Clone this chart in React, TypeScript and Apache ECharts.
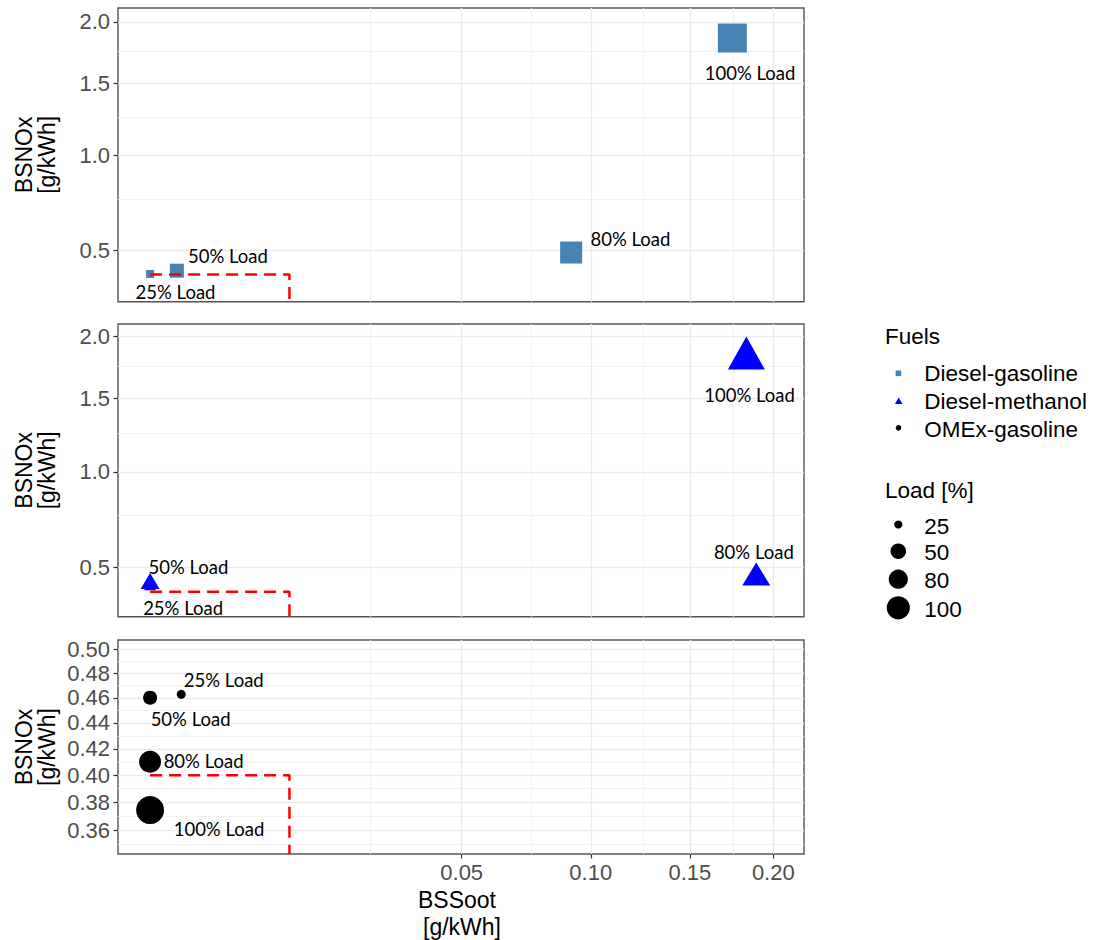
import React, { useEffect, useRef } from "react";
import * as echarts from "echarts";

// ---------- data (original units) ----------
const LOADS = [25, 50, 80, 100];
const FUELS = ["Diesel-gasoline", "Diesel-methanol", "OMEx-gasoline"];

// BSSoot [g/kWh] and BSNOx [g/kWh] per load (25, 50, 80, 100 %)
const DG_SOOT = [0.0, 0.00037, 0.0913, 0.1746];
const DG_NOX = [0.4016, 0.4147, 0.4904, 1.862];
const DM_SOOT = [0.0, 0.0, 0.1892, 0.1831];
const DM_NOX = [0.425, 0.4424, 0.4714, 1.861];
const OG_SOOT = [0.0005, 0.0, 0.0, 0.0];
const OG_NOX = [0.4628, 0.4601, 0.4101, 0.3743];

// emission limit box
const LIMIT_SOOT = 0.01;
const LIMIT_NOX = 0.4;

// tick labels
const X_TICKS = [0.05, 0.1, 0.15, 0.2];
const X_MINOR = [0.025, 0.075, 0.125, 0.175];
const Y_TICKS_WIDE = [0.5, 1.0, 1.5, 2.0];
const Y_MINOR_WIDE = [0.75, 1.25, 1.75];
const Y_TICKS_NARROW = [0.36, 0.38, 0.4, 0.42, 0.44, 0.46, 0.48, 0.5];
const Y_MINOR_NARROW = [0.35, 0.37, 0.39, 0.41, 0.43, 0.45, 0.47, 0.49];

// ---------- layout / style ----------
const SQ = Math.sqrt;
const X_RANGE = [-0.02303, 0.46925]; // sqrt-space limits
const PANELS = [
  { top: 8, height: 293.7, yRange: [0.54793, 1.45757], ticks: Y_TICKS_WIDE, minor: Y_MINOR_WIDE, dec: 1 },
  { top: 324, height: 292.7, yRange: [0.55562, 1.45316], ticks: Y_TICKS_WIDE, minor: Y_MINOR_WIDE, dec: 1 },
  { top: 640, height: 214, yRange: [0.5858, 0.71244], ticks: Y_TICKS_NARROW, minor: Y_MINOR_NARROW, dec: 2 },
];
const GRID_LEFT = 118;
const GRID_WIDTH = 686;

const SQUARE_SIZE: Record<number, number> = { 25: 8, 50: 14, 80: 22, 100: 29 };
const TRI_SIZE: Record<number, number[]> = { 25: [12, 10], 50: [19, 16], 80: [28, 23], 100: [37, 33] };
const CIRCLE_SIZE: Record<number, number> = { 25: 9, 50: 14, 80: 22, 100: 28 };

const LABEL_OFFSETS = [
  [[25.4, 17.7], [51, -14.7], [59.3, -13.8], [17.7, 34.7]],
  [[33, 23], [38.3, -13.7], [-2.4, -22.3], [3.2, 42.3]],
  [[42.5, -14.3], [40.5, 21.6], [53.5, -1], [68.9, 19.3]],
];

const TICK_FONT = "Liberation Sans, Arial, sans-serif";
const LABEL_FONT = "Lato, Carlito, sans-serif";

export default function App() {
  const ref = useRef<HTMLDivElement>(null);

  useEffect(() => {
    if (!ref.current) return;
    const chart = echarts.init(ref.current, undefined, { renderer: "svg" });

    const grids = PANELS.map((p) => ({
      left: GRID_LEFT,
      top: p.top,
      width: GRID_WIDTH,
      height: p.height,
      show: true,
      borderColor: "#555555",
      borderWidth: 1.4,
      backgroundColor: "#ffffff",
    }));

    const xAxis: any[] = [];
    const yAxis: any[] = [];
    PANELS.forEach((p, i) => {
      const isBottom = i === 2;
      xAxis.push({
        type: "value",
        gridIndex: i,
        position: "bottom",
        min: X_RANGE[0],
        max: X_RANGE[1],
        axisLine: { show: false, onZero: false },
        axisTick: {
          show: isBottom,
          customValues: X_TICKS.map(SQ),
          length: 4.5,
          lineStyle: { color: "#333333", width: 1.2 },
        },
        axisLabel: {
          show: isBottom,
          customValues: X_TICKS.map(SQ),
          formatter: (v: number) => (v * v).toFixed(2),
          margin: 7,
          fontSize: 22,
          color: "#4D4D4D",
          fontFamily: TICK_FONT,
        },
        splitLine: { show: true, lineStyle: { color: "#EBEBEB", width: 1.4 } },
      });
      xAxis.push({
        type: "value",
        gridIndex: i,
        position: "top",
        min: X_RANGE[0],
        max: X_RANGE[1],
        axisLine: { show: false, onZero: false },
        axisTick: { show: false, customValues: X_MINOR.map(SQ) },
        axisLabel: { show: false, customValues: X_MINOR.map(SQ) },
        splitLine: { show: true, lineStyle: { color: "#F2F2F2", width: 1 } },
      });
      yAxis.push({
        type: "value",
        gridIndex: i,
        position: "left",
        min: p.yRange[0],
        max: p.yRange[1],
        axisLine: { show: false, onZero: false },
        axisTick: {
          show: true,
          customValues: p.ticks.map(SQ),
          length: 4.5,
          lineStyle: { color: "#333333", width: 1.2 },
        },
        axisLabel: {
          show: true,
          customValues: p.ticks.map(SQ),
          formatter: (v: number) => (v * v).toFixed(p.dec),
          margin: 8,
          fontSize: 22,
          color: "#4D4D4D",
          fontFamily: TICK_FONT,
        },
        splitLine: { show: true, lineStyle: { color: "#EBEBEB", width: 1.4 } },
      });
      yAxis.push({
        type: "value",
        gridIndex: i,
        position: "right",
        min: p.yRange[0],
        max: p.yRange[1],
        axisLine: { show: false, onZero: false },
        axisTick: { show: false, customValues: p.minor.map(SQ) },
        axisLabel: { show: false, customValues: p.minor.map(SQ) },
        splitLine: { show: true, lineStyle: { color: "#F2F2F2", width: 1 } },
      });
    });

    const fuelData = [
      { soot: DG_SOOT, nox: DG_NOX, symbol: "rect", color: "#4682B4", size: (l: number) => SQUARE_SIZE[l] },
      { soot: DM_SOOT, nox: DM_NOX, symbol: "triangle", color: "#0000FF", size: (l: number) => TRI_SIZE[l] },
      { soot: OG_SOOT, nox: OG_NOX, symbol: "circle", color: "#000000", size: (l: number) => CIRCLE_SIZE[l] },
    ];

    const series: any[] = [];
    fuelData.forEach((f, i) => {
      series.push({
        name: FUELS[i],
        type: "scatter",
        xAxisIndex: 2 * i,
        yAxisIndex: 2 * i,
        symbol: f.symbol,
        symbolSize: (val: number[]) => f.size(val[2]),
        itemStyle: { color: f.color, opacity: 1 },
        z: 3,
        label: {
          show: true,
          position: "inside",
          formatter: (p: any) => `${p.value[2]}% Load`,
          color: "#000000",
          fontSize: 18.5,
          fontFamily: LABEL_FONT,
          textBorderWidth: 0,
          align: "center",
          verticalAlign: "middle",
        },
        data: LOADS.map((l, k) => ({
          value: [SQ(f.soot[k]), SQ(f.nox[k]), l],
          label: { offset: LABEL_OFFSETS[i][k] },
        })),
      });
      const yMin = PANELS[i].yRange[0];
      series.push({
        name: "limit-" + i,
        type: "line",
        xAxisIndex: 2 * i,
        yAxisIndex: 2 * i,
        symbol: "none",
        silent: true,
        z: 4,
        lineStyle: { color: "#FF0000", width: 2.5, type: [12, 7] },
        data: [
          [0, SQ(LIMIT_NOX)],
          [SQ(LIMIT_SOOT), SQ(LIMIT_NOX)],
          [SQ(LIMIT_SOOT), yMin],
        ],
      });
    });

    const titleFont = { fontSize: 23, fontFamily: TICK_FONT, fill: "#000000" };
    const legendFont = { fontSize: 22.5, fontFamily: TICK_FONT, fill: "#000000" };

    const graphic: any[] = [];
    PANELS.forEach((p) => {
      graphic.push({
        type: "text",
        x: 35,
        y: p.top + p.height / 2,
        rotation: Math.PI / 2,
        style: {
          text: "BSNOx\n[g/kWh]",
          align: "center",
          verticalAlign: "middle",
          lineHeight: 23,
          ...titleFont,
        },
      });
    });
    graphic.push(
      { type: "text", x: 457, y: 900, style: { text: "BSSoot", align: "center", verticalAlign: "middle", ...titleFont } },
      { type: "text", x: 462, y: 927, style: { text: "[g/kWh]", align: "center", verticalAlign: "middle", ...titleFont } }
    );

    // Fuels legend
    graphic.push({ type: "text", x: 885, y: 336.7, style: { text: "Fuels", align: "left", verticalAlign: "middle", ...legendFont } });
    const fuelY = [373.3, 401.7, 429.3];
    graphic.push(
      { type: "rect", shape: { x: 895.6, y: fuelY[0] - 2.8, width: 5.6, height: 5.6 }, style: { fill: "#4682B4" } },
      {
        type: "polygon",
        shape: { points: [[898.7, fuelY[1] - 4.2], [894.9, fuelY[1] + 2.2], [902.5, fuelY[1] + 2.2]] },
        style: { fill: "#0000FF" },
      },
      { type: "circle", shape: { cx: 898.5, cy: fuelY[2] - 1.5, r: 2.8 }, style: { fill: "#000000" } }
    );
    FUELS.forEach((f, k) => {
      graphic.push({ type: "text", x: 924.3, y: fuelY[k], style: { text: f, align: "left", verticalAlign: "middle", ...legendFont } });
    });

    // Load legend
    graphic.push({ type: "text", x: 885, y: 490, style: { text: "Load [%]", align: "left", verticalAlign: "middle", ...legendFont } });
    const loadY = [526, 552.7, 580.7, 609.3];
    const loadR = [4.1, 7.8, 9.6, 11.6];
    LOADS.forEach((l, k) => {
      graphic.push({ type: "circle", shape: { cx: 898.3, cy: loadY[k] - 1.5, r: loadR[k] }, style: { fill: "#000000" } });
      graphic.push({ type: "text", x: 924.3, y: loadY[k], style: { text: String(l), align: "left", verticalAlign: "middle", ...legendFont } });
    });

    chart.setOption({
      animation: false,
      backgroundColor: "#ffffff",
      grid: grids,
      xAxis,
      yAxis,
      series,
      graphic,
    });

    return () => chart.dispose();
  }, []);

  return (
    <div
      ref={ref}
      style={{ position: "fixed", left: 0, top: 0, width: 1101, height: 940, background: "#ffffff" }}
    />
  );
}
